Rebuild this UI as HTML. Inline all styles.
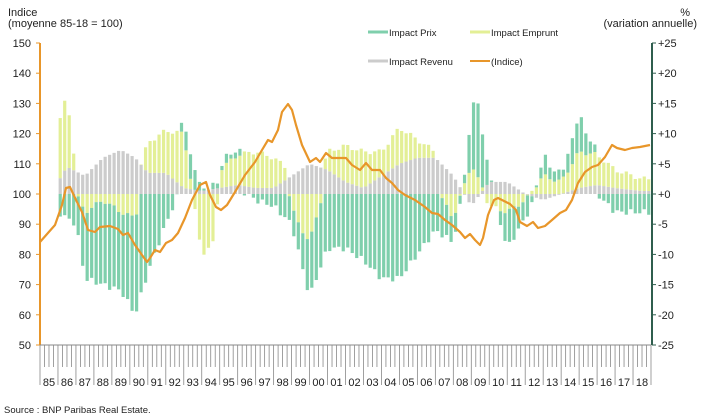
<!DOCTYPE html>
<html><head><meta charset="utf-8"><style>
body{margin:0;background:#fff;}
svg{display:block;font-family:"Liberation Sans",Arial,sans-serif;}
</style></head><body>
<svg id="c" width="701" height="420" viewBox="0 0 701 420">
<text x="8" y="16" font-size="11" fill="#222">Indice</text>
<text x="8" y="27" font-size="11" fill="#222">(moyenne 85-18 = 100)</text>
<text x="690" y="16" font-size="11" fill="#222" text-anchor="end">%</text>
<text x="697" y="27" font-size="11" fill="#222" text-anchor="end">(variation annuelle)</text>
<line x1="368" y1="32" x2="388" y2="32" stroke="#7fcfac" stroke-width="3"/>
<text x="389" y="36" font-size="9.5" fill="#222">Impact Prix</text>
<line x1="470" y1="32" x2="490" y2="32" stroke="#e3ef96" stroke-width="3"/>
<text x="491" y="36" font-size="9.5" fill="#222">Impact Emprunt</text>
<line x1="368" y1="61" x2="388" y2="61" stroke="#cccccc" stroke-width="3"/>
<text x="389" y="65" font-size="9.5" fill="#222">Impact Revenu</text>
<line x1="470" y1="61" x2="490" y2="61" stroke="#e8962a" stroke-width="2"/>
<text x="491" y="65" font-size="9.5" fill="#222">(Indice)</text>
<g id="bars"></g>
<g id="axes"></g>
<text x="4" y="413" font-size="9.5" fill="#222">Source : BNP Paribas Real Estate.</text>
</svg>
<script>
var NS="http://www.w3.org/2000/svg";
function el(t,a,p){var e=document.createElementNS(NS,t);for(var k in a)e.setAttribute(k,a[k]);(p||document.getElementById('c')).appendChild(e);return e;}
var X0=40,X1=651,YW=(X1-X0)/34,Y0=194,PP=6.04;
function interp(kf,t){if(t<=kf[0][0])return kf[0][1];for(var i=1;i<kf.length;i++){if(t<=kf[i][0]){var a=kf[i-1],b=kf[i];return a[1]+(b[1]-a[1])*(t-a[0])/(b[0]-a[0]);}}return kf[kf.length-1][1];}
var gray=[[1,2],[1.5,4.5],[2.5,3],[3.5,6],[4.5,7.3],[5.3,6],[6,3.5],[7,3.5],[8,1],[9,0.5],[10,1],[11,1.5],[12,1],[13,1],[14,3],[15,5],[16,4],[17,2],[18,1],[19,3],[20,5],[21,6],[22,6],[23,3],[24,-2],[25,2],[26,2],[27,0],[28,-1],[29,0],[30,1],[31,1.5],[32,1],[33.5,0.5]];
var yel=[[1,9],[1.5,12],[2,0],[2.5,-3],[3.5,-1],[4.5,-3],[5.3,-4],[6,5],[7,7],[8,9],[9,-10],[9.7,-8],[10,3],[11,5],[12,6],[13,5],[13.7,2],[14.2,-4],[15,-8],[16,3],[17,6],[18,6],[19,4],[20,6],[21,3],[22,1],[23,-4],[24,5],[25,-2],[26,-3],[27,-1],[28,3],[29,2],[30,6],[31,5],[32,3],[33.5,2]];
var grn=[[1,-3],[1.5,-4],[2,-5],[2.5,-14],[3.5,-15],[4.5,-16],[5.3,-20],[6,-13],[7,-5],[7.7,0],[8,3],[8.6,4],[9,0],[10,1],[11,1],[12,-1],[13,-2],[14,-5],[15,-17],[16,-9],[17,-9],[18,-11],[19,-14],[20,-14],[21,-10],[22,-6],[23,-8],[23.7,3],[24.3,14],[25,2],[26,-9],[27,-4],[28,3],[29,1],[30,6],[31,0],[32,-3],[33.5,-3]];
var B=document.getElementById('bars');
for(var q=4;q<136;q++){var t=q/4+0.125;var x=X0+(q+0.5)*YW/4-1.6;
 var g=interp(gray,t),y=interp(yel,t)+Math.sin(q*1.7)*0.4,p=interp(grn,t)+Math.cos(q*2.3)*0.5;
 if(p<0&&y<0){p=Math.min(p-y,0);}
 var pos=0,neg=0;
 [[g,'#cccccc'],[y,'#e3ef96'],[p,'#7fcfac']].forEach(function(s){var v=s[0];if(v>=0){el('rect',{x:x,y:Y0-(pos+v)*PP,width:3.2,height:v*PP,fill:s[1]},B);pos+=v;}else{el('rect',{x:x,y:Y0+neg*PP,width:3.2,height:-v*PP,fill:s[1]},B);neg+=-v;}});
}
var A=document.getElementById('axes');
var pts=[[40,242],[55,225],[62,205],[66,188],[70,187],[76,200],[82,212],[88,230],[95,232],[100,227],[110,226],[118,229],[123,235],[128,233],[135,245],[142,255],[147,262],[150,258],[155,250],[160,252],[166,243],[172,240],[178,233],[185,218],[192,200],[200,185],[206,182],[210,195],[216,207],[221,210],[227,205],[235,192],[245,175],[255,162],[262,150],[268,140],[272,142],[278,130],[282,112],[288,104],[292,110],[296,125],[302,145],[310,162],[316,158],[320,162],[326,153],[332,158],[340,158],[346,158],[352,165],[360,170],[366,163],[372,170],[380,170],[386,178],[392,183],[398,190],[405,195],[415,200],[425,207],[432,213],[438,214],[445,220],[452,225],[460,232],[465,238],[470,234],[475,240],[480,245],[483,238],[488,215],[494,200],[498,198],[504,201],[510,204],[516,210],[520,222],[527,226],[533,222],[538,228],[545,226],[552,220],[560,213],[566,210],[572,200],[578,183],[585,172],[592,167],[598,165],[605,157],[612,145],[617,148],[625,150],[632,148],[640,147],[650,145]];
el('polyline',{points:pts.map(function(p){return p.join(',')}).join(' '),fill:'none',stroke:'#e8962a','stroke-width':2.2,'stroke-linejoin':'round'},A);
el('line',{x1:X0,y1:43,x2:X0,y2:345,stroke:'#e8962a','stroke-width':2},A);
for(var v=50;v<=150;v+=10){var yy=Y0-(v-100)*3.02;var tx=el('text',{x:31,y:yy+4,'font-size':11,fill:'#222','text-anchor':'end'},A);tx.textContent=v;el('line',{x1:36,y1:yy,x2:40,y2:yy,stroke:'#e8962a'},A);}
el('line',{x1:X1+1,y1:43,x2:X1+1,y2:345,stroke:'#2f5e4e','stroke-width':2},A);
for(var v=-25;v<=25;v+=5){var yy=Y0-v*PP;var tx=el('text',{x:658,y:yy+4,'font-size':11,fill:'#222'},A);tx.textContent=(v>=0?'+':'')+v;el('line',{x1:652,y1:yy,x2:656,y2:yy,stroke:'#2f5e4e'},A);}
el('line',{x1:X0,y1:345,x2:X1,y2:345,stroke:'#888','stroke-width':1},A);
for(var q=0;q<=136;q++){var x=X0+q*YW/4;el('line',{x1:x,y1:345,x2:x,y2:(q%4==0)?385:367,stroke:'#888','stroke-width':0.8},A);}
for(var i=0;i<34;i++){var yr=(85+i)%100;var tx=el('text',{x:X0+(i+0.5)*YW,y:386,'font-size':11,fill:'#222','text-anchor':'middle'},A);tx.textContent=(yr<10?'0':'')+yr;}
</script>
</body></html>
